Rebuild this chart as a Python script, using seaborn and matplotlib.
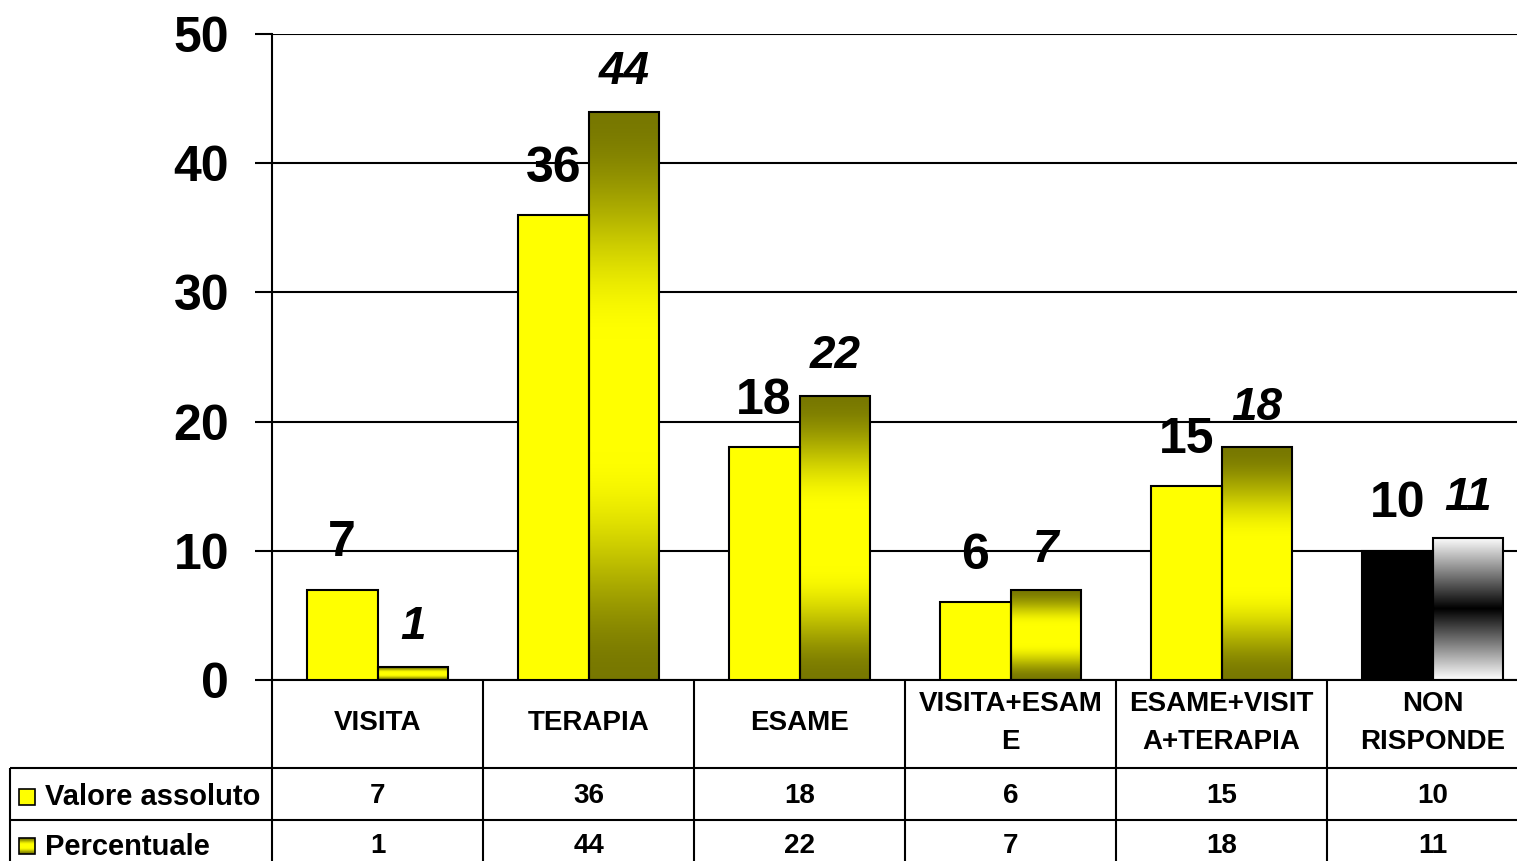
import numpy as np
import pandas as pd
import matplotlib
matplotlib.use("Agg")
import matplotlib.pyplot as plt
from matplotlib.patches import Rectangle
import seaborn as sns

# dati
categorie = ['VISITA', 'TERAPIA', 'ESAME', 'VISITA+ESAME', 'ESAME+VISITA+TERAPIA', 'NON RISPONDE']
etichette_tabella = ['VISITA', 'TERAPIA', 'ESAME', 'VISITA+ESAM\nE', 'ESAME+VISIT\nA+TERAPIA', 'NON\nRISPONDE']
valore_assoluto = [7, 36, 18, 6, 15, 10]
percentuale = [1, 44, 22, 7, 18, 11]
serie = ['Valore assoluto', 'Percentuale']

df = pd.DataFrame({
    'categoria': categorie * 2,
    'valore': valore_assoluto + percentuale,
    'serie': [serie[0]] * len(categorie) + [serie[1]] * len(categorie),
})

sns.set_theme(style='white')
plt.rcParams['font.family'] = ['Liberation Sans', 'DejaVu Sans']
plt.rcParams['text.color'] = 'black'
plt.rcParams['xtick.color'] = 'black'
plt.rcParams['ytick.color'] = 'black'

GIALLO = np.array([1.0, 1.0, 0.0])
OLIVA = np.array([0.47, 0.47, 0.0])
BIANCO = np.array([1.0, 1.0, 1.0])
NERO = np.array([0.0, 0.0, 0.0])

fig = plt.figure(figsize=(15.17, 8.61), dpi=100)
ax = fig.add_axes([272 / 1517, 181 / 861, 1266 / 1517, 646 / 861])

sns.barplot(data=df, x='categoria', y='valore', hue='serie', order=categorie,
            hue_order=serie, palette=['#ffff00', '#7d7d00'], saturation=1,
            width=0.67, edgecolor='black', linewidth=1.5, legend=False, ax=ax)


def gradiente(ax, rect, bordo, centro, zorder=2, morbido=True):
    x0, y0 = rect.get_x(), rect.get_y()
    w, h = rect.get_width(), rect.get_height()
    t = np.linspace(0, 1, 256)
    f = 1 - np.abs(2 * t - 1)
    if morbido:
        f = np.clip(f / 0.8, 0, 1)
        f = 3 * f ** 2 - 2 * f ** 3
    img = bordo[None, :] + (centro - bordo)[None, :] * f[:, None]
    img = img[:, None, :]
    rect.set_facecolor('none')
    rect.set_zorder(zorder + 1)
    im = ax.imshow(img, extent=[x0, x0 + w, y0, y0 + h], aspect='auto',
                   origin='lower', zorder=zorder, interpolation='bilinear')
    im.set_clip_path(rect)
    im.set_clip_on(True)


barre_ass = ax.containers[0]
barre_perc = ax.containers[1]
for b in barre_ass:
    b.set_zorder(3)
barre_ass[-1].set_facecolor('black')
for i, b in enumerate(barre_perc):
    if i == len(barre_perc) - 1:
        gradiente(ax, b, BIANCO, NERO, morbido=False)
    else:
        gradiente(ax, b, OLIVA, GIALLO)

# etichette valori
for b, v in zip(barre_ass, valore_assoluto):
    ax.annotate(str(v), (b.get_x() + b.get_width() / 2, b.get_height()),
                xytext=(0, 24), textcoords='offset points', ha='center',
                va='baseline', fontsize=36, fontweight='bold', zorder=5)
for b, v in zip(barre_perc, percentuale):
    ax.annotate(str(v), (b.get_x() + b.get_width() / 2, b.get_height()),
                xytext=(0, 20), textcoords='offset points', ha='center',
                va='baseline', fontsize=33, fontweight='bold', style='italic', zorder=5)

ax.set_xlim(-0.5, 5.5)
ax.set_ylim(0, 50)
ax.set_yticks([0, 10, 20, 30, 40, 50])
ax.yaxis.grid(True, color='black', linewidth=1.5)
ax.set_axisbelow(True)
ax.tick_params(axis='x', length=0, labelbottom=False)
ax.tick_params(axis='y', direction='out', length=12, width=1.5, color='black',
               pad=19, labelsize=36, left=True, labelcolor='black')
for lab in ax.get_yticklabels():
    lab.set_fontweight('bold')
ax.set_xlabel('')
ax.set_ylabel('')
for s in ['top', 'right']:
    ax.spines[s].set_visible(False)
for s in ['left', 'bottom']:
    ax.spines[s].set_color('black')
    ax.spines[s].set_linewidth(1.5)

# tabella dati
px = 646 / 50  # pixel per unita
y_head = -(768 - 680) / px
y_row1 = -(820 - 680) / px
y_fondo = -15
x_sin = -0.5 + (10 - 272) / 211
lw = 1.5
kw = dict(color='black', linewidth=lw, clip_on=False, solid_capstyle='butt')
for xb in np.arange(-0.5, len(categorie) + 0.5, 1):
    ax.plot([xb, xb], [0, y_fondo], **kw)
ax.plot([x_sin, x_sin], [y_head, y_fondo], **kw)
ax.plot([x_sin, 5.6], [y_head, y_head], **kw)
ax.plot([x_sin, 5.6], [y_row1, y_row1], **kw)

for i, lab in enumerate(etichette_tabella):
    ax.text(i, -(723 - 680) / px, lab, ha='center', va='center', fontsize=20,
            fontweight='bold', linespacing=1.58, clip_on=False)
for i, (va, vp) in enumerate(zip(valore_assoluto, percentuale)):
    ax.text(i, -(796 - 680) / px, str(va), ha='center', va='center', fontsize=20,
            fontweight='bold', clip_on=False)
    ax.text(i, -(846 - 680) / px, str(vp), ha='center', va='center', fontsize=20,
            fontweight='bold', clip_on=False)

# legenda nella tabella
xm = -0.5 + (19 - 272) / 211
wm = 16 / 211
hm = 16 / px
ym1 = -(805 - 680) / px
ym2 = -(854 - 680) / px
r1 = Rectangle((xm, ym1), wm, hm, facecolor='#ffff00', edgecolor='black',
               linewidth=1.2, clip_on=False, zorder=4)
ax.add_patch(r1)
r2 = Rectangle((xm, ym2), wm, hm, facecolor='#ffff00', edgecolor='black',
               linewidth=1.2, clip_on=False, zorder=4)
ax.add_patch(r2)
gradiente(ax, r2, OLIVA, GIALLO, zorder=4)
ax.text(-0.5 + (45 - 272) / 211, -(797 - 680) / px, serie[0], ha='left', va='center',
        fontsize=21, fontweight='bold', clip_on=False)
ax.text(-0.5 + (45 - 272) / 211, -(847 - 680) / px, serie[1], ha='left', va='center',
        fontsize=21, fontweight='bold', clip_on=False)

ax.set_xlim(-0.5, 5.5)
ax.set_ylim(0, 50)

fig.savefig('out.png', dpi=100)
